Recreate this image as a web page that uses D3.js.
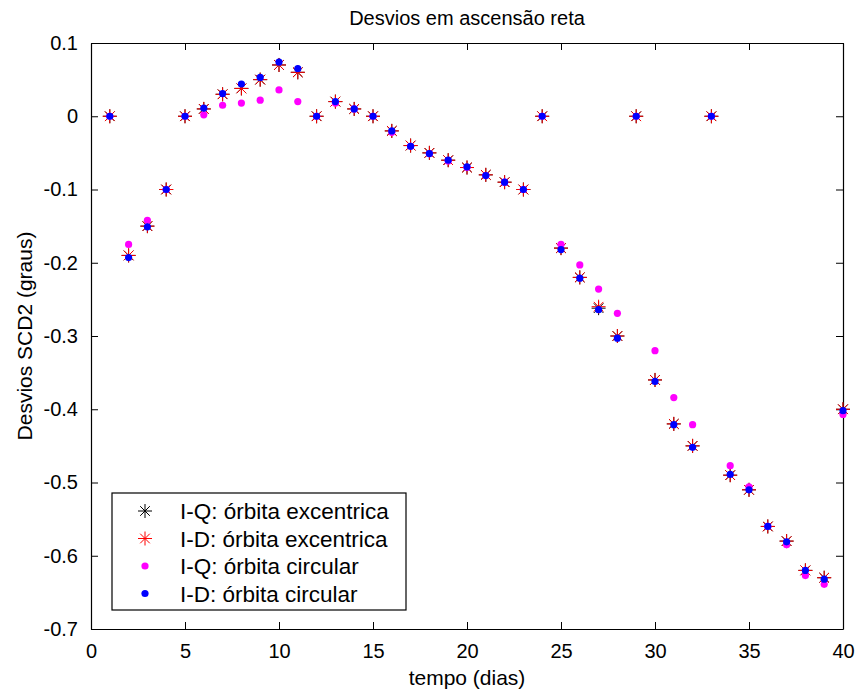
<!DOCTYPE html>
<html><head><meta charset="utf-8">
<script src="https://cdn.jsdelivr.net/npm/d3@7"></script>
<style>
body{margin:0;background:#fff;}
text{font-family:"Liberation Sans",Arial,Helvetica,sans-serif;fill:#000;}
</style></head>
<body><svg id="chart" width="860" height="694"></svg>
<script>
const days = d3.range(1, 41);
const iqExcentrica = [0,-0.19,-0.15,-0.1,0,0.01,0.03,0.038,0.05,0.07,0.06,0,0.02,0.01,0,-0.02,-0.04,-0.05,-0.06,-0.07,-0.08,-0.09,-0.1,0,-0.18,-0.22,-0.262,-0.3,0,-0.36,-0.42,-0.45,0,-0.49,-0.51,-0.56,-0.58,-0.62,-0.63,-0.4];
const idExcentrica = [0,-0.19,-0.15,-0.1,0,0.01,0.03,0.038,0.05,0.07,0.06,0,0.02,0.01,0,-0.02,-0.04,-0.05,-0.06,-0.07,-0.08,-0.09,-0.1,0,-0.18,-0.22,-0.26,-0.3,0,-0.36,-0.42,-0.45,0,-0.49,-0.51,-0.56,-0.58,-0.62,-0.63,-0.4];
const iqCircular = [0,-0.175,-0.142,-0.1,0,0.002,0.015,0.018,0.022,0.036,0.02,0,0.018,0.01,0,-0.022,-0.041,-0.051,-0.061,-0.07,-0.081,-0.09,-0.1,0,-0.175,-0.203,-0.236,-0.269,0,-0.32,-0.384,-0.421,0,-0.477,-0.506,-0.56,-0.585,-0.627,-0.639,-0.407];
const idCircular = [0,-0.193,-0.151,-0.1,0,0.011,0.031,0.044,0.053,0.074,0.065,0,0.02,0.01,0,-0.02,-0.041,-0.051,-0.06,-0.069,-0.081,-0.09,-0.1,0,-0.182,-0.221,-0.264,-0.303,0,-0.362,-0.421,-0.452,0,-0.489,-0.51,-0.56,-0.581,-0.62,-0.632,-0.402];
const xTicks = [0,5,10,15,20,25,30,35,40];
const yTicks = [0.1,0,-0.1,-0.2,-0.3,-0.4,-0.5,-0.6,-0.7];
const legendLabels = ["I-Q: órbita excentrica","I-D: órbita excentrica","I-Q: órbita circular","I-D: órbita circular"];
const titleText = "Desvios em ascensão reta";
const xLabel = "tempo (dias)";
const yLabel = "Desvios SCD2 (graus)";

const svg = d3.select("#chart");
const L = 91, R = 843, T = 43, B = 629;
const x = d3.scaleLinear().domain([0, 40]).range([L, R]);
const y = d3.scaleLinear().domain([-0.7, 0.1]).range([B, T]);
const fmt = d => d === 0 ? "0" : String(d).replace("−", "-");

// axes
const tk = 7;
const gx = svg.append("g").attr("transform", `translate(0,${B})`)
  .call(d3.axisBottom(x).tickValues(xTicks).tickSizeInner(-tk).tickSizeOuter(0).tickPadding(14).tickFormat(d3.format("d")));
const gxt = svg.append("g").attr("transform", `translate(0,${T})`)
  .call(d3.axisTop(x).tickValues(xTicks).tickSizeInner(-tk).tickSizeOuter(0).tickFormat(""));
const gy = svg.append("g").attr("transform", `translate(${L},0)`)
  .call(d3.axisLeft(y).tickValues(yTicks).tickSizeInner(-tk).tickSizeOuter(0).tickPadding(14).tickFormat(fmt));
const gyr = svg.append("g").attr("transform", `translate(${R},0)`)
  .call(d3.axisRight(y).tickValues(yTicks).tickSizeInner(-tk).tickSizeOuter(0).tickFormat(""));
[gx, gxt, gy, gyr].forEach(g => {
  g.selectAll(".domain").attr("stroke", "#000").attr("stroke-width", 1.2);
  g.selectAll(".tick line").attr("stroke", "#000");
  g.selectAll("text").attr("font-size", 20).attr("font-family", "Liberation Sans, Arial, sans-serif").attr("fill", "#000");
});
gx.selectAll("text").attr("dy", "0.75em");
gy.selectAll("text").attr("dx", "1px");

// star marker path
function starPath(s, d) {
  return `M${-s},0L${s},0M0,${-s}L0,${s}M${-d},${-d}L${d},${d}M${-d},${d}L${d},${-d}`;
}
const star = starPath(7, 4.8);

function drawStars(vals, color) {
  svg.append("g").selectAll("path").data(days).join("path")
    .attr("transform", (d, i) => `translate(${x(d)},${y(vals[i])})`)
    .attr("d", star).attr("stroke", color).attr("stroke-width", 1).attr("fill", "none");
}
function drawDots(vals, color) {
  svg.append("g").selectAll("circle").data(days).join("circle")
    .attr("cx", d => x(d)).attr("cy", (d, i) => y(vals[i]))
    .attr("r", 3.6).attr("fill", color);
}
drawStars(iqExcentrica, "#000");
drawStars(idExcentrica, "#ff0000");
drawDots(iqCircular, "#ff00ff");
drawDots(idCircular, "#0000ff");

// title and labels
svg.append("text").attr("x", (L + R) / 2).attr("y", 25).attr("text-anchor", "middle")
  .attr("font-size", 20).text(titleText);
svg.append("text").attr("x", (L + R) / 2).attr("y", 685).attr("text-anchor", "middle")
  .attr("font-size", 21).text(xLabel);
svg.append("text").attr("transform", `translate(32,${(T + B) / 2}) rotate(-90)`).attr("text-anchor", "middle")
  .attr("font-size", 21).text(yLabel);

// legend
const lg = svg.append("g");
lg.append("rect").attr("x", 112).attr("y", 493).attr("width", 294).attr("height", 117)
  .attr("fill", "#fff").attr("stroke", "#000").attr("stroke-width", 1.2);
const ly = [511, 538.5, 566, 593.5];
const lColors = ["#000", "#ff0000", "#ff00ff", "#0000ff"];
legendLabels.forEach((lab, i) => {
  if (i < 2) {
    lg.append("path").attr("transform", `translate(145,${ly[i]})`).attr("d", star)
      .attr("stroke", lColors[i]).attr("fill", "none");
  } else {
    lg.append("circle").attr("cx", 145).attr("cy", ly[i]).attr("r", 3.6).attr("fill", lColors[i]);
  }
  lg.append("text").attr("x", 180).attr("y", ly[i]).attr("dy", "0.36em")
    .attr("font-size", 22.5).text(lab);
});
</script>
</body></html>
